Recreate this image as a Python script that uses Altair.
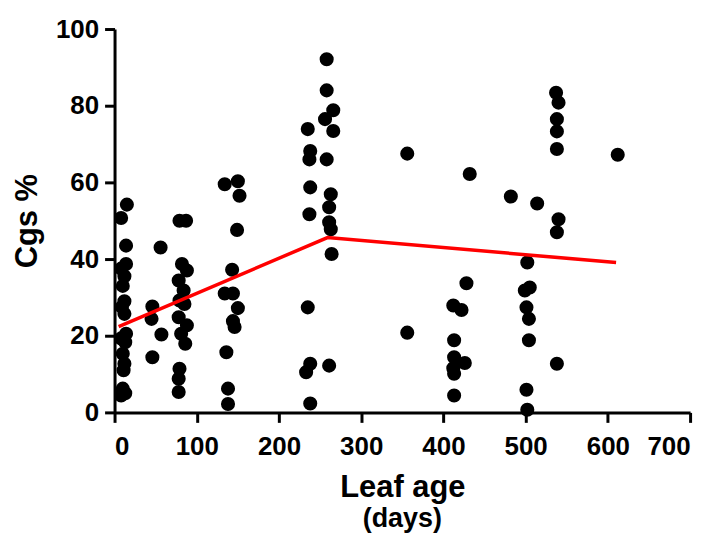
import altair as alt
import pandas as pd

# Scatter data: leaf age (days) and Cgs (%)
leaf_age_days = [
    15, 8, 14, 14, 8, 12, 10, 12, 9, 12, 14, 8, 13, 10, 12, 11, 10, 13, 8,
    56, 46, 45, 57, 46,
    79, 87, 82, 88, 78, 84, 79, 85, 78, 88, 81, 86, 79, 78, 78,
    134, 150, 152, 149, 143, 134, 144, 150, 144, 146, 136, 138, 138,
    258, 258, 266, 256, 266, 235, 238, 237, 258, 238, 263, 261, 237, 261, 263, 264, 235, 238, 233, 261, 238,
    356, 356, 432, 428, 412, 422, 413, 413, 426, 412, 413, 413,
    482, 514, 502, 499, 505, 501, 504, 504, 501, 502,
    537, 540, 538, 538, 538, 540, 538, 538,
    612,
]
cgs_percent = [
    54.2, 50.7, 43.5, 38.7, 37.5, 35.5, 33.0, 29.0, 27.5, 25.7, 20.5, 19.3, 18.3, 15.3, 12.7, 11.0, 6.2, 5.0, 4.4,
    43.0, 27.6, 24.4, 20.3, 14.4,
    50.0, 50.0, 38.7, 37.0, 34.4, 31.8, 29.2, 28.3, 24.8, 22.7, 20.5, 17.9, 11.4, 8.8, 5.3,
    59.5, 60.3, 56.5, 47.6, 37.2, 31.0, 31.0, 27.2, 23.8, 22.3, 15.7, 6.2, 2.2,
    92.1, 84.0, 78.8, 76.5, 73.4, 73.9, 68.2, 66.0, 66.0, 58.7, 56.9, 53.5, 51.7, 49.6, 47.8, 41.3, 27.4, 12.7, 10.5, 12.2, 2.3,
    67.5, 20.8, 62.2, 33.7, 27.9, 26.7, 18.8, 14.4, 12.9, 11.5, 10.1, 4.4,
    56.3, 54.5, 39.1, 31.8, 32.6, 27.4, 24.4, 18.8, 5.9, 0.7,
    83.4, 80.8, 76.5, 73.3, 68.7, 50.4, 47.0, 12.7,
    67.2,
]

# Fitted segmented line
fit_age_days = [5, 259, 610]
fit_cgs_percent = [22.4, 45.6, 39.1]

x_ticks = [0, 100, 200, 300, 400, 500, 600, 700]
y_ticks = [0, 20, 40, 60, 80, 100]

pts = pd.DataFrame({"age": leaf_age_days, "cgs": cgs_percent})
fit = pd.DataFrame({"age": fit_age_days, "cgs": fit_cgs_percent})
sub = pd.DataFrame({"t": ["(days)"]})

FONT = "Liberation Sans"
W, H = 578, 385

x_enc = alt.X(
    "age:Q",
    scale=alt.Scale(domain=[0, 700], nice=False, zero=True),
    axis=alt.Axis(
        values=x_ticks, title="Leaf age", labelPadding=11,
        titleX=W / 2, titleY=84, titleBaseline="alphabetic", titleAlign="center",
        titleFontSize=31,
    ),
)
y_enc = alt.Y(
    "cgs:Q",
    scale=alt.Scale(domain=[0, 100], nice=False, zero=True),
    axis=alt.Axis(
        values=y_ticks, title="Cgs %", labelPadding=6,
        titleX=-78, titleY=H / 2, titleAngle=270, titleBaseline="alphabetic",
        titleAlign="center", titleFontSize=31,
    ),
)

points = alt.Chart(pts).mark_circle(size=200, color="black", opacity=1).encode(x=x_enc, y=y_enc)
line = alt.Chart(fit).mark_line(color="#ff0000", strokeWidth=3.5).encode(x="age:Q", y="cgs:Q")
days = alt.Chart(sub).mark_text(
    font=FONT, fontSize=27, fontWeight="bold", color="black",
    align="center", baseline="alphabetic",
).encode(x=alt.value(W / 2), y=alt.value(500), text="t:N")

chart = (
    alt.layer(points, line, days)
    .properties(
        width=W, height=H,
        autosize="none",
        padding={"left": 107, "top": 20, "right": 20, "bottom": 122},
    )
    .configure_view(stroke=None)
    .configure_axis(
        grid=False,
        domainColor="black", domainWidth=3,
        tickColor="black", tickWidth=3, tickSize=10,
        labelFont=FONT, labelFontSize=26, labelFontWeight="bold", labelColor="black",
        titleFont=FONT, titleFontWeight="bold", titleColor="black",
    )
)

chart.save("out.html", embed_options={"renderer": "svg", "actions": False})
